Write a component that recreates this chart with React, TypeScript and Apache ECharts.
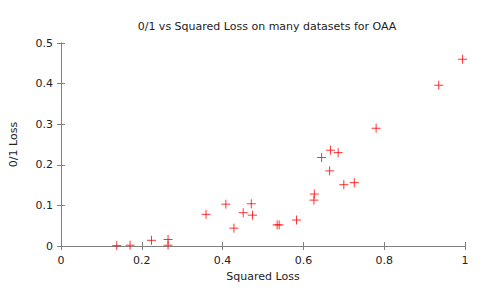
import React, { useEffect, useRef } from "react";
import * as echarts from "echarts";

const squaredLoss = [
  0.138, 0.171, 0.224, 0.265, 0.265, 0.359, 0.408, 0.428, 0.451, 0.471, 0.474,
  0.535, 0.540, 0.583, 0.626, 0.627, 0.667, 0.665, 0.686, 0.700, 0.726,
  0.780, 0.935, 0.994, 0.645,
];
const zeroOneLoss = [
  0.001, 0.002, 0.014, 0.016, 0.002, 0.078, 0.103, 0.044, 0.082, 0.104, 0.076,
  0.052, 0.052, 0.064, 0.113, 0.128, 0.236, 0.185, 0.230, 0.151, 0.156,
  0.290, 0.396, 0.460, 0.218,
];
const xTicks = [0, 0.2, 0.4, 0.6, 0.8, 1];
const yTicks = [0, 0.1, 0.2, 0.3, 0.4, 0.5];

const FONT = "DejaVu Sans";

export default function App() {
  const ref = useRef<HTMLDivElement>(null);
  useEffect(() => {
    if (!ref.current) return;
    const chart = echarts.init(ref.current, null, { renderer: "svg" });
    const axisLine = { show: true, lineStyle: { color: "#7f7f7f", width: 1 } };
    const tick = { show: true, inside: true, length: 4, lineStyle: { color: "#7f7f7f" } };
    const label = { fontFamily: FONT, fontSize: 11, color: "#222" };
    const data = squaredLoss.map((x, i) => [x, zeroOneLoss[i]]);
    chart.setOption({
      animation: false,
      title: {
        text: "0/1 vs Squared Loss on many datasets for OAA",
        left: 262,
        textAlign: "center",
        top: 16,
        textStyle: { fontFamily: FONT, fontSize: 11, fontWeight: "normal", color: "#222" },
      },
      grid: { left: 60, right: 20, top: 43, bottom: 45 },
      xAxis: [
        {
          type: "value",
          min: 0,
          max: 1,
          interval: 0.2,
          name: "Squared Loss",
          nameLocation: "middle",
          nameGap: 25,
          nameTextStyle: label,
          axisLine,
          axisTick: tick,
          splitLine: { show: false },
          axisLabel: {
            ...label,
            margin: 9,
            formatter: (v: number) => {
              const t = xTicks.find((x) => Math.abs(x - v) < 1e-9);
              return t === undefined ? "" : String(t);
            },
          },
        },
        {
          type: "value",
          position: "top",
          min: 0,
          max: 1,
          interval: 0.2,
          axisLine,
          axisTick: tick,
          axisLabel: { show: false },
          splitLine: { show: false },
        },
      ],
      yAxis: [
        {
          type: "value",
          min: 0,
          max: 0.5,
          interval: 0.1,
          name: "0/1 Loss",
          nameLocation: "middle",
          nameGap: 42,
          nameTextStyle: label,
          axisLine,
          axisTick: tick,
          splitLine: { show: false },
          axisLabel: {
            ...label,
            margin: 8,
            formatter: (v: number) => {
              const t = yTicks.find((y) => Math.abs(y - v) < 1e-9);
              return t === undefined ? "" : String(t);
            },
          },
        },
        {
          type: "value",
          position: "right",
          min: 0,
          max: 0.5,
          interval: 0.1,
          axisLine,
          axisTick: tick,
          axisLabel: { show: false },
          splitLine: { show: false },
        },
      ],
      series: [
        {
          type: "scatter",
          symbol: "path://M-1,0H1M0,-1V1",
          symbolSize: 9,
          silent: true,
          emphasis: { disabled: true },
          itemStyle: { color: "none", borderColor: "#ff0000", borderWidth: 1 },
          data,
        },
      ],
    });
    return () => chart.dispose();
  }, []);
  return <div ref={ref} style={{ width: 485, height: 291, margin: -8 }} />;
}
